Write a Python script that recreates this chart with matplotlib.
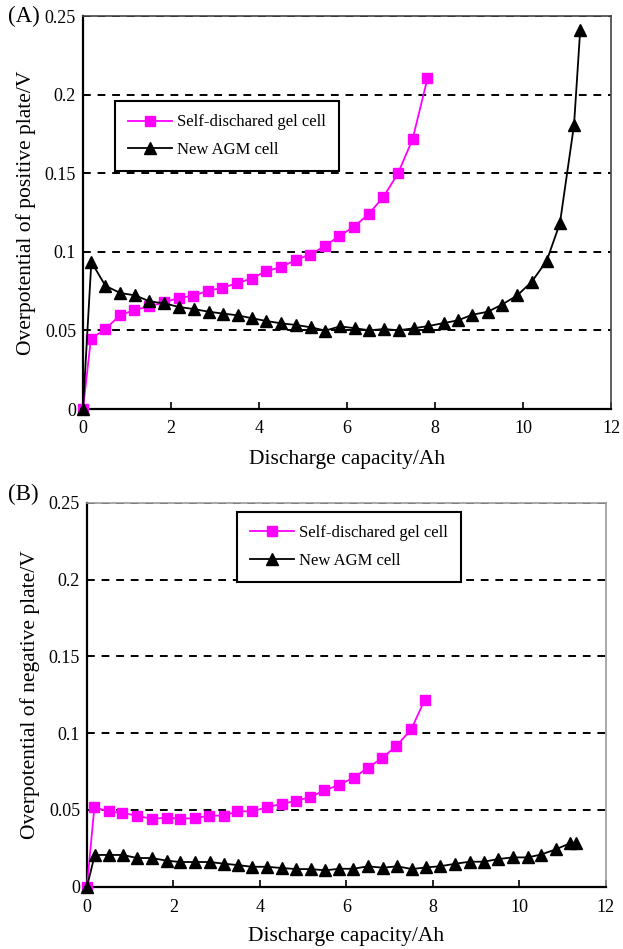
import matplotlib.pyplot as plt

plt.rcParams['font.family'] = ['Liberation Serif', 'DejaVu Serif']

# (A) positive plate
gel_x_a = [0, 0.18, 0.51, 0.84, 1.17, 1.51, 1.84, 2.18, 2.5, 2.84, 3.17, 3.5, 3.83,
           4.16, 4.49, 4.83, 5.15, 5.49, 5.82, 6.16, 6.49, 6.83, 7.16, 7.49, 7.83]
gel_y_a = [0, 0.0446, 0.051, 0.0596, 0.063, 0.0653, 0.0678, 0.0708, 0.072, 0.0752,
           0.0771, 0.0801, 0.083, 0.0877, 0.0902, 0.0947, 0.0983, 0.1035, 0.110,
           0.116, 0.124, 0.135, 0.150, 0.1716, 0.2105]
agm_x_a = [0, 0.19, 0.51, 0.85, 1.19, 1.51, 1.85, 2.19, 2.52, 2.86, 3.19, 3.52, 3.85,
           4.17, 4.51, 4.84, 5.18, 5.51, 5.84, 6.18, 6.51, 6.84, 7.18, 7.52, 7.85,
           8.2, 8.52, 8.85, 9.2, 9.52, 9.87, 10.2, 10.54, 10.84, 11.16, 11.3]
agm_y_a = [0, 0.0936, 0.0784, 0.0738, 0.0723, 0.0685, 0.0672, 0.0649, 0.0636, 0.0619,
           0.0607, 0.0596, 0.0577, 0.056, 0.0545, 0.0535, 0.052, 0.0499, 0.0526,
           0.0514, 0.0501, 0.0509, 0.0501, 0.0514, 0.0528, 0.0547, 0.0564, 0.060,
           0.0619, 0.0664, 0.0723, 0.081, 0.0943, 0.1183, 0.1807, 0.2409]

# (B) negative plate
gel_x_b = [0, 0.17, 0.5, 0.82, 1.16, 1.5, 1.84, 2.15, 2.49, 2.83, 3.16, 3.48, 3.81,
           4.16, 4.5, 4.83, 5.16, 5.49, 5.83, 6.17, 6.49, 6.82, 7.15, 7.5, 7.81]
gel_y_b = [0, 0.0517, 0.0491, 0.048, 0.0463, 0.0441, 0.045, 0.0443, 0.0446, 0.0463,
           0.0463, 0.0491, 0.0491, 0.0517, 0.0539, 0.0559, 0.0583, 0.0628, 0.0663,
           0.0711, 0.0774, 0.0837, 0.0915, 0.1026, 0.1217]
agm_x_b = [0, 0.18, 0.5, 0.83, 1.16, 1.5, 1.84, 2.15, 2.49, 2.84, 3.17, 3.49, 3.81,
           4.16, 4.5, 4.84, 5.17, 5.51, 5.83, 6.16, 6.49, 6.84, 7.17, 7.52, 7.83,
           8.16, 8.52, 8.85, 9.18, 9.5, 9.84, 10.19, 10.49, 10.84, 11.18, 11.31]
agm_y_b = [0, 0.0207, 0.0207, 0.0207, 0.0187, 0.0187, 0.017, 0.0161, 0.0161, 0.0161,
           0.015, 0.0141, 0.013, 0.013, 0.0122, 0.0115, 0.0115, 0.0107, 0.0117,
           0.0117, 0.0133, 0.0124, 0.0133, 0.0115, 0.0126, 0.0133, 0.015, 0.0163,
           0.0163, 0.018, 0.0191, 0.0191, 0.0209, 0.0243, 0.0285, 0.0285]

xticks = [0, 2, 4, 6, 8, 10, 12]
yticks = [0, 0.05, 0.1, 0.15, 0.2, 0.25]
yticklabels = ['0', '0.05', '0.1', '0.15', '0.2', '0.25']

fig = plt.figure(figsize=(6.23, 9.49), dpi=100)
ax1 = fig.add_axes([0.1332, 0.569, 0.8475, 0.414])
ax2 = fig.add_axes([0.1396, 0.0656, 0.833, 0.4046])


def draw(ax, gx, gy, ax_, ay, ylabel, letter, leg_pos, xpad, tpad, spine_col, letter_dy):
    for v in yticks[1:]:
        ax.axhline(v, color='black', lw=1.4, ls=(0, (4, 3.5)), zorder=1)
    ax.plot(gx, gy, color='#ff00ff', lw=1.3, marker='s', ms=6.5,
            label='Self-dischared gel cell', zorder=3, clip_on=False)
    ax.plot(ax_, ay, color='black', lw=1.3, marker='^', ms=8,
            label='New AGM cell', zorder=4, clip_on=False)
    ax.set_xlim(0, 12)
    ax.set_ylim(0, 0.25)
    ax.set_xticks(xticks)
    ax.set_yticks(yticks)
    ax.set_yticklabels(yticklabels)
    ax.tick_params(axis='x', direction='in', length=5, width=1.2, labelsize=13, pad=tpad)
    ax.tick_params(axis='y', length=0, labelsize=13, pad=5)
    ax.set_xlabel('Discharge capacity/Ah', fontsize=15.5, labelpad=xpad)
    ax.set_ylabel(ylabel, fontsize=15.5, labelpad=6)
    for s in ['left', 'bottom']:
        ax.spines[s].set_linewidth(1.6)
        ax.spines[s].set_color('black')
    for s in ['top', 'right']:
        ax.spines[s].set_linewidth(1.2)
        ax.spines[s].set_color(spine_col)
    leg = ax.legend(loc='upper left', bbox_to_anchor=leg_pos,
                    bbox_transform=fig.transFigure, borderaxespad=0,
                    fancybox=False, framealpha=1, edgecolor='black',
                    fontsize=12, handlelength=2.6, handletextpad=0.3,
                    borderpad=0.8, labelspacing=0.7)
    leg.get_frame().set_linewidth(1.5)
    fig.text(0.013, ax.get_position().y1 + letter_dy, letter, fontsize=16.5,
             va='center', ha='left')


draw(ax1, gel_x_a, gel_y_a, agm_x_a, agm_y_a, 'Overpotential of positive plate/V',
     '(A)', (115 / 623, 1 - 101 / 949), 9, 8, '#444444', 0.0)
draw(ax2, gel_x_b, gel_y_b, agm_x_b, agm_y_b, 'Overpotential of negative plate/V',
     '(B)', (237 / 623, 1 - 512 / 949), 8, 9, '#999999', 0.009)

fig.savefig('out.png', dpi=100)
